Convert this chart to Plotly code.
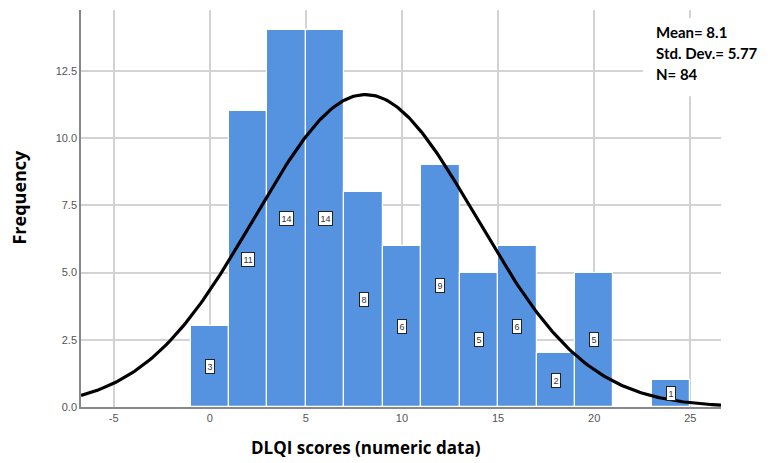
import numpy as np
import plotly.graph_objects as go

# Data
bin_centers = [0, 2, 4, 6, 8, 10, 12, 14, 16, 18, 20, 22, 24]
frequencies = [3, 11, 14, 14, 8, 6, 9, 5, 6, 2, 5, 0, 1]
bin_width = 2
mean_val = 8.1
sd_val = 5.77
n_val = 84
x_ticks = [-5, 0, 5, 10, 15, 20, 25]
y_ticks = [0.0, 2.5, 5.0, 7.5, 10.0, 12.5]
stats_lines = ["Mean= 8.1", "Std. Dev.= 5.77", "N= 84"]

bar_color = "#5592E0"

fig = go.Figure()
fig.add_trace(go.Bar(
    x=bin_centers, y=frequencies, width=[bin_width] * len(bin_centers),
    marker=dict(color=bar_color, line=dict(color="white", width=1.2)),
    hoverinfo="x+y", showlegend=False,
))

# fitted normal curve
xs = np.linspace(-6.7, 26.6, 300)
ys = n_val * bin_width / (sd_val * np.sqrt(2 * np.pi)) * np.exp(-0.5 * ((xs - mean_val) / sd_val) ** 2)
fig.add_trace(go.Scatter(x=xs, y=ys, mode="lines", line=dict(color="black", width=3.2),
                         showlegend=False, hoverinfo="skip"))

annotations = []
for xc, f in zip(bin_centers, frequencies):
    if f > 0:
        annotations.append(dict(
            x=xc, y=f / 2, xref="x", yref="y", text=str(f), showarrow=False,
            font=dict(family="Arial", size=9, color="#333333"),
            bgcolor="white", bordercolor="#222222", borderwidth=1, borderpad=1.5,
        ))

for i, line in enumerate(stats_lines):
    annotations.append(dict(
        x=0.895, y=1.0, xref="paper", yref="paper", xanchor="left", yanchor="middle",
        yshift=-(22 + 21 * i),
        text=f"<b>{line}</b>", align="left", showarrow=False,
        font=dict(family="Lato", size=15, color="black"),
    ))

annotations.append(dict(
    x=0.445, y=0, xref="paper", yref="paper", xanchor="center", yanchor="middle",
    yshift=-40, text="<b>DLQI scores (numeric data)</b>", showarrow=False,
    font=dict(family="Open Sans", size=17, color="black"),
))
annotations.append(dict(
    x=-0.097, y=0.53, xref="paper", yref="paper", xanchor="center", yanchor="middle",
    textangle=-90, text="<b>Frequency</b>", showarrow=False,
    font=dict(family="Open Sans", size=18, color="black"),
))

fig.update_layout(
    width=775, height=463,
    margin=dict(l=81, r=54, t=10, b=56),
    plot_bgcolor="white", paper_bgcolor="white",
    bargap=0,
    annotations=annotations,
    shapes=[dict(type="rect", xref="paper", yref="paper", x0=0.878, x1=1.09,
                 y0=0.783, y1=0.98, fillcolor="white", line=dict(width=0), layer="above")],
    xaxis=dict(
        range=[-6.7, 26.6], tickvals=x_ticks, ticktext=[str(v) for v in x_ticks],
        showgrid=True, gridcolor="#D3D3D3", gridwidth=1.5, automargin=False,
        showline=True, linecolor="#888888", linewidth=1.5, zeroline=False,
        ticks="", tickfont=dict(family="Arial", size=11, color="#555555"),
    ),
    yaxis=dict(
        range=[0, 14.76], tickvals=y_ticks, ticktext=[f"{v:.1f}" for v in y_ticks],
        showgrid=True, gridcolor="#D3D3D3", gridwidth=1.5, automargin=False,
        showline=True, linecolor="#888888", linewidth=1.5, zeroline=False,
        ticks="", tickfont=dict(family="Arial", size=11, color="#555555"),
    ),
)

fig.write_html("out.html", config={"displayModeBar": False},
               post_script="document.body.style.margin='0';document.body.style.overflow='hidden';")
